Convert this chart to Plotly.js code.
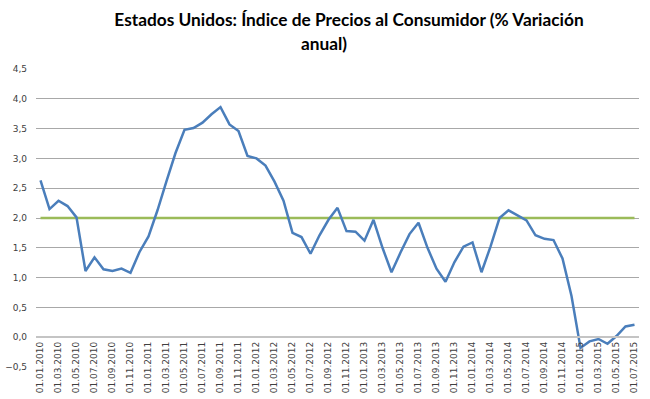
<!DOCTYPE html>
<html>
<head>
<meta charset="utf-8">
<script src="https://cdn.plot.ly/plotly-3.0.1.min.js"></script>
<style>html,body{margin:0;padding:0;background:#fff;}#chart{width:650px;height:399px;}</style>
</head>
<body>
<div id="chart"></div>
<script>
var categories = [
  "01.01.2010","01.02.2010","01.03.2010","01.04.2010","01.05.2010","01.06.2010","01.07.2010","01.08.2010","01.09.2010","01.10.2010","01.11.2010","01.12.2010",
  "01.01.2011","01.02.2011","01.03.2011","01.04.2011","01.05.2011","01.06.2011","01.07.2011","01.08.2011","01.09.2011","01.10.2011","01.11.2011","01.12.2011",
  "01.01.2012","01.02.2012","01.03.2012","01.04.2012","01.05.2012","01.06.2012","01.07.2012","01.08.2012","01.09.2012","01.10.2012","01.11.2012","01.12.2012",
  "01.01.2013","01.02.2013","01.03.2013","01.04.2013","01.05.2013","01.06.2013","01.07.2013","01.08.2013","01.09.2013","01.10.2013","01.11.2013","01.12.2013",
  "01.01.2014","01.02.2014","01.03.2014","01.04.2014","01.05.2014","01.06.2014","01.07.2014","01.08.2014","01.09.2014","01.10.2014","01.11.2014","01.12.2014",
  "01.01.2015","01.02.2015","01.03.2015","01.04.2015","01.05.2015","01.06.2015","01.07.2015"
];
var cpiValues = [
  2.63, 2.15, 2.29, 2.20, 2.01, 1.11, 1.34, 1.14, 1.11, 1.15, 1.08, 1.43,
  1.69, 2.13, 2.62, 3.09, 3.48, 3.51, 3.60, 3.74, 3.86, 3.57, 3.46, 3.04,
  3.00, 2.88, 2.61, 2.29, 1.75, 1.68, 1.40, 1.71, 1.97, 2.17, 1.78, 1.77,
  1.62, 1.97, 1.50, 1.09, 1.42, 1.73, 1.92, 1.50, 1.15, 0.93, 1.26, 1.52,
  1.59, 1.09, 1.52, 2.00, 2.13, 2.05, 1.96, 1.71, 1.65, 1.63, 1.32, 0.69,
  -0.18, -0.07, -0.03, -0.11, 0.02, 0.18, 0.21
];
var targetValue = 2.0;
var targetValues = categories.map(function(){ return targetValue; });
var tickLabels = categories.filter(function(c, i){ return i % 2 === 0; });

var titleLine1 = "Estados Unidos: Índice de Precios al Consumidor (% Variación";
var titleLine2 = "anual)";

var traces = [
  {x: categories, y: targetValues, type: "scatter", mode: "lines",
   line: {color: "#9BBB59", width: 2.5}, hoverinfo: "skip", showlegend: false},
  {x: categories, y: cpiValues, type: "scatter", mode: "lines",
   line: {color: "#4A7EBB", width: 2.5}, hoverinfo: "skip", showlegend: false}
];

var tickFont = {family: "DejaVu Sans", size: 9, color: "#404040"};
var titleFont = {family: "Lato", size: 17.3, color: "#000000", weight: "bold"};

var layout = {
  width: 650, height: 399,
  margin: {l: 35.5, r: 10.5, t: 69.3, b: 31.5, pad: 0},
  paper_bgcolor: "#ffffff", plot_bgcolor: "#ffffff",
  separators: ",.",
  showlegend: false,
  title: {
    text: titleLine1,
    x: 349 / 650, xref: "container", xanchor: "center",
    y: 1 - 20 / 399, yref: "container", yanchor: "middle",
    font: titleFont
  },
  annotations: [{
    text: titleLine2, showarrow: false,
    xref: "paper", yref: "paper",
    x: (324 - 35.5) / 604, y: (367.5 - 44) / 298.2,
    xanchor: "center", yanchor: "middle",
    font: titleFont
  }],
  xaxis: {
    type: "category",
    range: [-0.5, categories.length - 0.5],
    tickmode: "array", tickvals: tickLabels, ticktext: tickLabels,
    tickangle: -90,
    tickfont: tickFont,
    ticks: "",
    showgrid: false, zeroline: false,
    showline: true, linecolor: "#c4c4c4", linewidth: 2,
    anchor: "free", position: 0.1,
    automargin: false, fixedrange: true
  },
  yaxis: {
    range: [-0.5, 4.5],
    tickmode: "linear", tick0: -0.5, dtick: 0.5,
    tickformat: ".1f",
    tickfont: tickFont,
    ticks: "", ticklabelstandoff: 8,
    showgrid: true, gridcolor: "#a8a8a8", gridwidth: 1,
    zeroline: false, showline: false,
    automargin: false, fixedrange: true
  }
};

Plotly.newPlot("chart", traces, layout, {displayModeBar: false, staticPlot: true});
</script>
</body>
</html>
